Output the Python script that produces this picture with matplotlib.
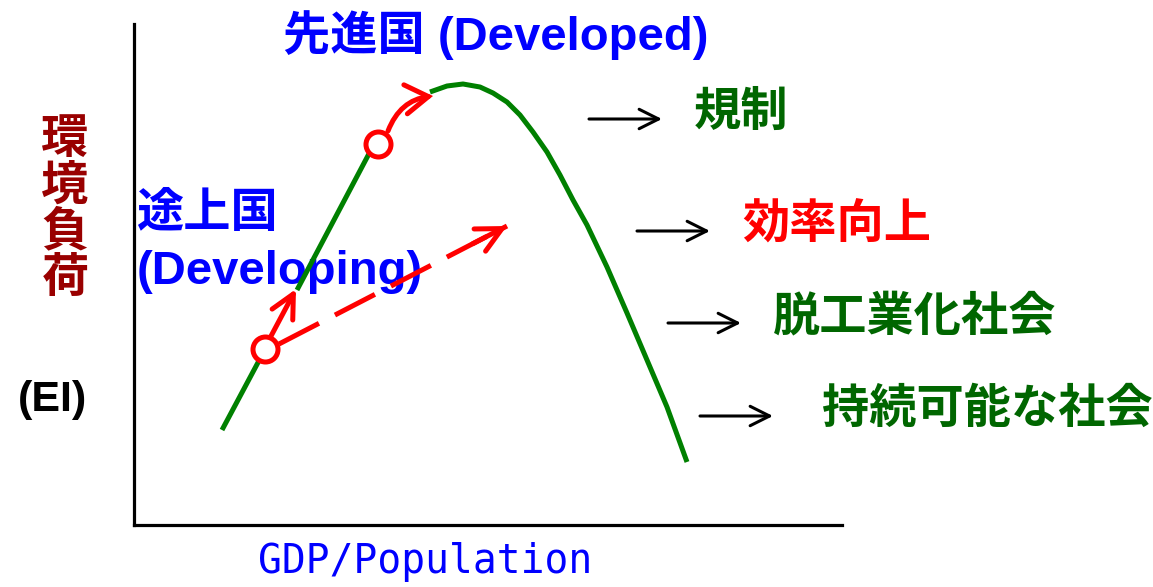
import matplotlib.pyplot as plt

# all coordinates in "GDP / EI" units (origin = axes corner)
rise_lo_x = [88, 128]
rise_lo_y = [95, 170]
rise_hi_x = [163, 238]
rise_hi_y = [235, 377]
peak_x = [296, 313, 329, 346, 359, 373, 386, 399, 413, 426, 439, 453, 473, 493, 513, 533, 553]
peak_y = [433, 439, 441, 438, 432, 423, 410, 393, 373, 350, 325, 300, 258, 212, 165, 118, 63]

circle_x = [131, 244]
circle_y = [176, 381]

# red arrows (start, end)
solid_arrow = [(136, 187), (162, 236)]
curved_arrow = [(254, 394), (299, 429)]
dashed_arrow = [(145, 181), (373, 299)]

# right side labels
right_labels = ["規制", "効率向上", "脱工業化社会", "持続可能な社会"]
right_colors = ["#006600", "#ff0000", "#006600", "#006600"]
arrow_x0 = [455, 503, 534, 566]
arrow_y = [406, 294, 202, 109]
label_x = [560, 608, 639, 688]

ylabel_chars = ["環", "境", "負", "荷"]
ylabel_y = [384, 338, 292, 245]

GREEN = "#008000"
RED = "#ff0000"
BLUE = "#0000ff"
bold_fam = ["Liberation Sans", "Noto Sans CJK JP", "DejaVu Sans"]

fig = plt.figure(figsize=(11.53, 5.87), dpi=100)
ax = fig.add_axes([134 / 1153, 62 / 587, 708 / 1153, 501 / 587])
ax.set_xlim(0, 708)
ax.set_ylim(0, 501)
ax.set_xticks([])
ax.set_yticks([])
for s in ["top", "right"]:
    ax.spines[s].set_visible(False)
for s in ["left", "bottom"]:
    ax.spines[s].set_linewidth(2.3)
    ax.spines[s].set_color("black")

# the curve
ax.plot(rise_lo_x, rise_lo_y, color=GREEN, lw=3.6, zorder=3, solid_capstyle="butt")
ax.plot(rise_hi_x, rise_hi_y, color=GREEN, lw=3.6, zorder=3, solid_capstyle="butt")
ax.plot(peak_x, peak_y, color=GREEN, lw=3.6, zorder=3, solid_capstyle="butt",
        solid_joinstyle="round")

# red arrows
red_style = "->,head_length=0.6,head_width=0.3"
ax.annotate("", xy=solid_arrow[1], xytext=solid_arrow[0],
            arrowprops=dict(arrowstyle=red_style, color=RED, lw=3.6,
                            mutation_scale=28, shrinkA=0, shrinkB=0), zorder=4)
ax.annotate("", xy=curved_arrow[1], xytext=curved_arrow[0],
            arrowprops=dict(arrowstyle="->,head_length=0.55,head_width=0.35",
                            color=RED, lw=3.6, mutation_scale=30,
                            shrinkA=0, shrinkB=0, joinstyle="miter",
                            connectionstyle="arc3,rad=-0.3"), zorder=4)
(x0, y0), (x1, y1) = dashed_arrow
ax.plot([x0, x1], [y0, y1], color=RED, lw=3.6, dashes=(9, 3.6), zorder=4)
ax.annotate("", xy=(x1, y1), xytext=(x1 - 0.15 * (x1 - x0), y1 - 0.15 * (y1 - y0)),
            arrowprops=dict(arrowstyle=red_style, color=RED, lw=3.6,
                            mutation_scale=30, shrinkA=0, shrinkB=0), zorder=4)

ax.plot(circle_x, circle_y, "o", ms=18, mfc="white", mec=RED, mew=3.6, zorder=5)

# texts
ax.text(149, 490, "先進国 (Developed)", color=BLUE, fontsize=34, fontweight="bold",
        family=bold_fam, ha="left", va="center", clip_on=False, zorder=1)
ax.text(3, 310, "途上国", color=BLUE, fontsize=34, fontweight="bold",
        family=bold_fam, ha="left", va="center", zorder=1)
ax.text(3, 253, "(Developing)", color=BLUE, fontsize=34, fontweight="bold",
        family=bold_fam, ha="left", va="center", zorder=1)

for lab, col, ax0, ay, lx in zip(right_labels, right_colors, arrow_x0, arrow_y, label_x):
    ax.annotate("", xy=(ax0 + 73, ay), xytext=(ax0, ay),
                arrowprops=dict(arrowstyle="->,head_length=0.7,head_width=0.35",
                                color="black", lw=2.2, mutation_scale=20,
                                shrinkA=0, shrinkB=0), annotation_clip=False)
    ax.text(lx, ay + 5, lab, color=col, fontsize=34, fontweight="bold",
            family=bold_fam, ha="left", va="center", clip_on=False)

for ch, cy in zip(ylabel_chars, ylabel_y):
    ax.text(-69, cy, ch, color="#990000", fontsize=34, fontweight="bold",
            family=bold_fam, ha="center", va="center", clip_on=False)
ax.text(-81, 125, "(EI)", color="black", fontsize=31, fontweight="bold",
        family=bold_fam, ha="center", va="center", clip_on=False)

ax.text(291, -37, "GDP/Population", color=BLUE, fontsize=28.5,
        family="DejaVu Sans Mono", ha="center", va="center", clip_on=False)

fig.savefig("out.png", dpi=100)
